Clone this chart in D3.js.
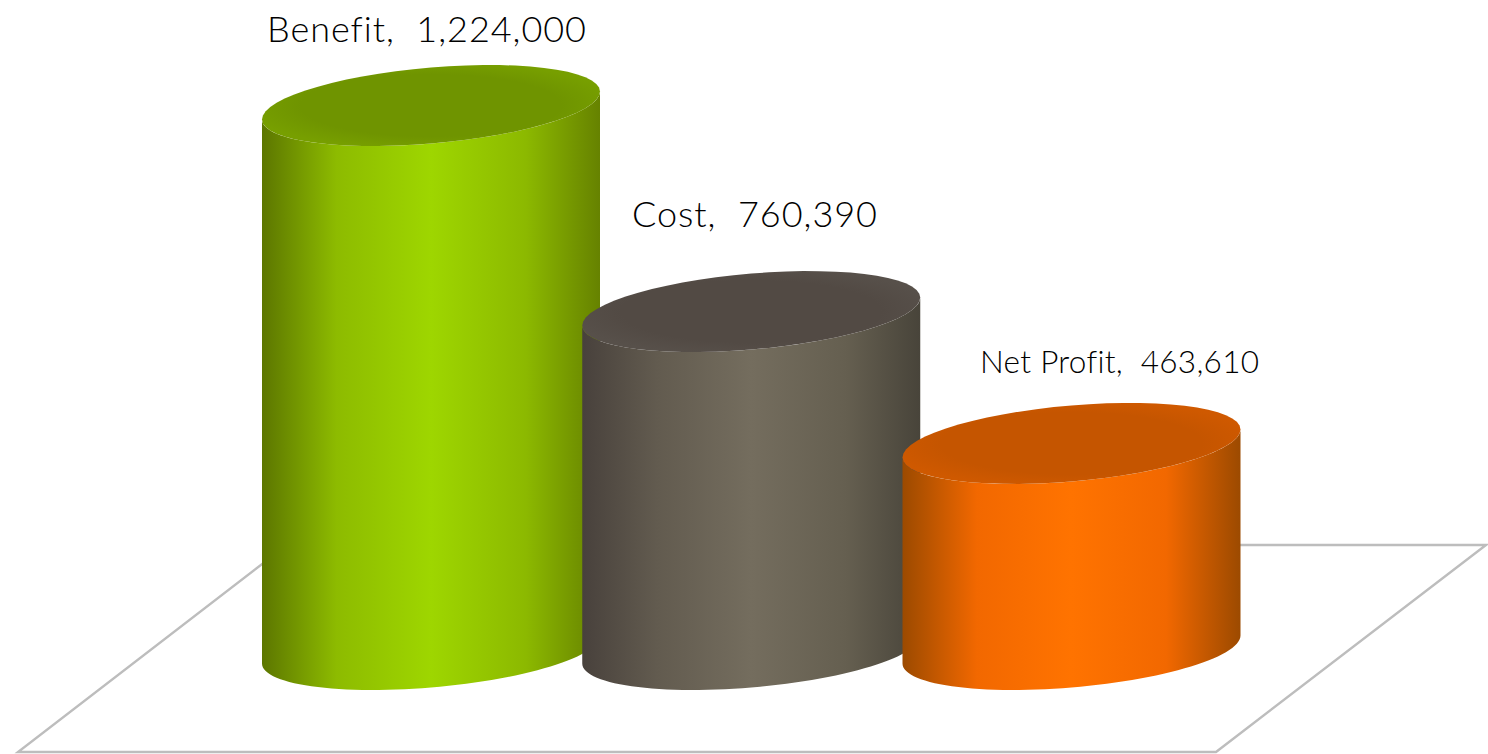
<!DOCTYPE html>
<html>
<head>
<meta charset="utf-8">
<style>
  html, body { margin: 0; padding: 0; background: #fff; overflow: hidden; }
  svg { display: block; }
  .label { font-family: Lato, "Open Sans", sans-serif; font-weight: 300; font-variant-ligatures: none; fill: #000; white-space: pre; }
  .floor { fill: none; stroke: #bdbdbd; stroke-width: 2.4; }
</style>
</head>
<body>
<svg width="1488" height="754"></svg>
<script src="https://cdn.jsdelivr.net/npm/d3@7"></script>
<script>
'use strict'
const categories = ['Benefit', 'Cost', 'Net Profit']
const values = [1224000, 760390, 463610]

const sideColors = [
    ['#5c7600', '#8dbb00', '#9ed600', '#8cb900', '#668200'],
    ['#48413c', '#625b4f', '#746d5e', '#655f50', '#48443a'],
    ['#9c4a00', '#f26800', '#ff7300', '#f26800', '#9c4a00']
]
const topColors = [
    ['#6f9400', '#779f00'],
    ['#524a44', '#57504a'],
    ['#c55500', '#cf5900']
]

const svg = d3.select('svg')
const defs = svg.append('defs')

const rx = 169          // half width of a cylinder
const ry = 38           // half height of the ellipse before the tilt
const tilt = -14        // how far the right end sits above the centre

const xScale = d3.scalePoint()
    .domain(categories)
    .range([431, 1071.5])

const yScale = d3.scaleLinear()
    .domain([0, 1224000])
    .range([649.5, 105.5])

// floor, it goes behind the cylinders
const floorY = [545, 752]
svg.append('path')
    .attr('class', 'floor')
    .attr('d', d3.line()([[270, floorY[0] + 13], [18, floorY[1]], [1216, floorY[1]], [1486, floorY[0]], [1200, floorY[0]]]))

const ellipsePoint = (cx, cy, a) => [
    cx + rx * Math.cos(a),
    cy + tilt * Math.cos(a) + ry * Math.sin(a)
]

const arcPoints = (cx, cy, from, to) => d3.range(0, 61).map((i) => ellipsePoint(cx, cy, from + (to - from) * i / 60))

categories.forEach((c, i) => {
    const side = defs.append('linearGradient')
        .attr('id', `side${i}`)
    side.selectAll('stop')
        .data(sideColors[i])
        .enter()
        .append('stop')
        .attr('offset', (d, j) => `${[0, 22, 50, 78, 100][j]}%`)
        .attr('stop-color', (d) => d)

    const top = defs.append('radialGradient')
        .attr('id', `top${i}`)
        .attr('r', '0.55')
    top.append('stop').attr('offset', '70%').attr('stop-color', topColors[i][0])
    top.append('stop').attr('offset', '100%').attr('stop-color', topColors[i][1])
})

const line = d3.line()

const bars = svg.selectAll('.bar')
    .data(categories)
    .enter()
    .append('g')
    .attr('class', 'bar')

// side: round the front of the base, then back along the front of the top
bars.append('path')
    .attr('fill', (c, i) => `url(#side${i})`)
    .attr('d', (c, i) => {
        const base = arcPoints(xScale(c), yScale(0), Math.PI, 0)
        const rim = arcPoints(xScale(c), yScale(values[i]), 0, Math.PI)
        return line(base.concat(rim)) + 'Z'
    })

bars.append('path')
    .attr('fill', (c, i) => `url(#top${i})`)
    .attr('d', (c, i) => line(arcPoints(xScale(c), yScale(values[i]), 0, 2 * Math.PI)) + 'Z')

// data labels
const labelX = [267, 632, 980]
const labelY = [41.7, 227, 372.7]
const labelSize = [36, 36, 31.5]
const labelLength = [319, 245, 279]

svg.selectAll('.label')
    .data(categories)
    .enter()
    .append('text')
    .attr('class', 'label')
    .attr('x', (c, i) => labelX[i])
    .attr('y', (c, i) => labelY[i])
    .attr('font-size', (c, i) => labelSize[i])
    .attr('textLength', (c, i) => labelLength[i])
    .attr('lengthAdjust', 'spacing')
    .text((c, i) => `${c},  ${d3.format(',')(values[i])}`)
</script>
</body>
</html>
